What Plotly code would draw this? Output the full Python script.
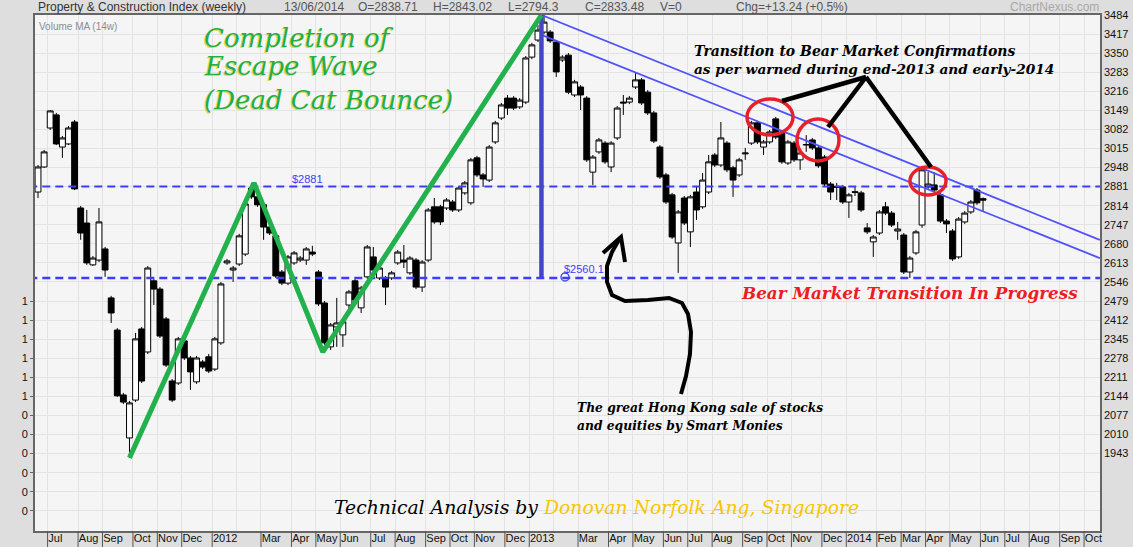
import pandas as pd
import plotly.graph_objects as go

# weekly candles (week ending Friday), Property & Construction Index
week_end = pd.date_range("2011-06-24", periods=156, freq="7D")

opens = [2862, 2950, 3087, 3133, 3020, 3031, 3108, 2806, 2753, 2606,
         2623, 2662, 2490, 2377, 2149, 1998, 2131, 2381, 2300, 2550,
         2521, 2416, 2198, 2191, 2339, 2279, 2195, 2265, 2283, 2240,
         2332, 2613, 2588, 2609, 2644, 2876, 2845, 2817, 2739, 2708,
         2581, 2542, 2613, 2623, 2623, 2651, 2581, 2472, 2318, 2388,
         2360, 2465, 2550, 2455, 2564, 2634, 2560, 2560, 2560, 2613,
         2623, 2578, 2623, 2528, 2623, 2810, 2810, 2806, 2827, 2799,
         2859, 2824, 2982, 2922, 2904, 3038, 3122, 3192, 3192, 3161,
         3178, 3336, 3396, 3424, 3424, 3389, 3326, 3343, 3203, 3231,
         3192, 2932, 3003, 3034, 2950, 3052, 3178, 3178, 3231, 3256,
         3213, 3140, 3020, 2922, 2852, 2683, 2841, 2722, 2862, 2810,
         2862, 2992, 2957, 3034, 2947, 2922, 2996, 3034, 3105, 3020,
         3038, 3119, 3069, 2964, 3034, 2975, 3027, 3045, 3017, 2985,
         2890, 2882, 2880, 2827, 2863, 2859, 2736, 2687, 2718, 2810,
         2788, 2725, 2711, 2581, 2648, 2746, 2880, 2887, 2852, 2760,
         2725, 2634, 2757, 2792, 2869, 2838.71]
highs = [2957, 3010, 3150, 3140, 3059, 3094, 3115, 2813, 2799, 2637,
         2806, 2669, 2497, 2384, 2156, 2128, 2367, 2388, 2602, 2557,
         2528, 2423, 2205, 2353, 2346, 2286, 2286, 2272, 2293, 2353,
         2546, 2627, 2602, 2715, 2827, 2894, 2852, 2824, 2746, 2715,
         2588, 2641, 2655, 2637, 2669, 2673, 2588, 2479, 2402, 2490,
         2413, 2518, 2557, 2532, 2676, 2669, 2602, 2567, 2585, 2658,
         2676, 2637, 2630, 2623, 2806, 2841, 2817, 2841, 2834, 2883,
         2901, 2982, 2989, 2929, 3027, 3112, 3175, 3203, 3199, 3192,
         3340, 3386, 3449, 3484, 3431, 3396, 3343, 3350, 3256, 3238,
         3199, 2992, 3052, 3041, 3041, 3164, 3203, 3199, 3280, 3263,
         3220, 3147, 3027, 2929, 2859, 2799, 2848, 2852, 2880, 2929,
         2992, 2999, 3108, 3041, 2954, 2982, 3017, 3112, 3112, 3045,
         3080, 3126, 3076, 3045, 3041, 3006, 3062, 3052, 3024, 2992,
         2897, 2894, 2887, 2859, 2880, 2866, 2753, 2711, 2799, 2827,
         2795, 2757, 2718, 2637, 2729, 2947, 2932, 2932, 2859, 2767,
         2732, 2774, 2795, 2834, 2876, 2843.02]
lows = [2841, 2947, 3080, 3027, 2982, 3027, 2869, 2694, 2606, 2602,
        2616, 2564, 2402, 2142, 2117, 1928, 2124, 2191, 2293, 2465,
        2349, 2247, 2124, 2184, 2272, 2167, 2188, 2240, 2226, 2233,
        2325, 2606, 2546, 2602, 2637, 2838, 2810, 2694, 2711, 2560,
        2535, 2535, 2606, 2616, 2606, 2637, 2462, 2325, 2307, 2318,
        2318, 2437, 2476, 2437, 2557, 2581, 2553, 2465, 2553, 2606,
        2595, 2571, 2521, 2511, 2616, 2750, 2746, 2799, 2792, 2792,
        2852, 2817, 2915, 2880, 2897, 3031, 3115, 3133, 3150, 3154,
        3171, 3329, 3389, 3417, 3386, 3266, 3319, 3206, 3196, 3150,
        2968, 2887, 2996, 2961, 2932, 3045, 3133, 3171, 3224, 3168,
        3133, 3034, 2908, 2820, 2697, 2578, 2746, 2669, 2764, 2803,
        2855, 2950, 2950, 2932, 2845, 2915, 2975, 3027, 3031, 2992,
        3031, 3048, 2961, 2957, 2968, 2940, 3003, 3010, 2947, 2883,
        2834, 2834, 2820, 2771, 2848, 2792, 2715, 2634, 2711, 2781,
        2739, 2694, 2574, 2560, 2641, 2736, 2873, 2862, 2753, 2718,
        2620, 2627, 2750, 2785, 2817, 2794.3]
closes = [2950, 3003, 3147, 3031, 3052, 3087, 2873, 2718, 2613, 2630,
          2757, 2588, 2437, 2146, 2124, 2121, 2346, 2198, 2595, 2521,
          2356, 2254, 2131, 2346, 2279, 2230, 2279, 2247, 2233, 2346,
          2539, 2620, 2595, 2708, 2820, 2845, 2817, 2739, 2718, 2567,
          2542, 2634, 2648, 2630, 2662, 2644, 2469, 2332, 2395, 2402,
          2406, 2511, 2483, 2525, 2669, 2588, 2595, 2528, 2578, 2651,
          2616, 2630, 2528, 2616, 2799, 2757, 2757, 2834, 2799, 2876,
          2894, 2975, 2922, 2908, 3020, 3105, 3168, 3157, 3157, 3185,
          3333, 3379, 3431, 3459, 3393, 3284, 3336, 3213, 3249, 3203,
          2975, 2985, 3045, 2968, 3034, 3157, 3175, 3192, 3256, 3175,
          3140, 3041, 2915, 2827, 2704, 2792, 2753, 2845, 2799, 2904,
          2968, 2957, 3052, 2940, 2904, 2975, 2999, 3105, 3038, 3038,
          3073, 3055, 2968, 3038, 2975, 2999, 3029, 3017, 2954, 2890,
          2862, 2878, 2827, 2852, 2861, 2799, 2722, 2704, 2792, 2788,
          2746, 2732, 2581, 2630, 2722, 2940, 2890, 2869, 2760, 2750,
          2627, 2767, 2788, 2827, 2824, 2833.48]

# x axis month labels
label_months = ["2011-07", "2011-08", "2011-09", "2011-10", "2011-11", "2011-12",
                "2012-01", "2012-03", "2012-04", "2012-05", "2012-06", "2012-07",
                "2012-08", "2012-09", "2012-10", "2012-11", "2012-12", "2013-01",
                "2013-03", "2013-04", "2013-05", "2013-06", "2013-07", "2013-08",
                "2013-09", "2013-10", "2013-11", "2013-12", "2014-01", "2014-02",
                "2014-03", "2014-04", "2014-05", "2014-06", "2014-07", "2014-08",
                "2014-09", "2014-10"]
month_labels = ["Jul", "Aug", "Sep", "Oct", "Nov", "Dec", "2012", "Mar", "Apr", "May",
                "Jun", "Jul", "Aug", "Sep", "Oct", "Nov", "Dec", "2013", "Mar", "Apr",
                "May", "Jun", "Jul", "Aug", "Sep", "Oct", "Nov", "Dec", "2014", "Feb",
                "Mar", "Apr", "May", "Jun", "Jul", "Aug", "Sep", "Oct"]
grid_only_months = ["2012-02", "2013-02"]

# price axis
price_ticks = [3484 - 67 * k for k in range(27)]
vol_ticks = [1742 + 67 * k for k in range(12)]
vol_labels = ["0"] * 6 + ["1"] * 6

# levels and drawn lines
resistance = 2881
support = 2560.1
wave_dates = ["2011-10-07", "2012-02-27", "2012-05-16", "2013-01-22"]
wave_levels = [1928, 2894, 2300, 3484]
peak_date = "2013-01-22"
chan_dates = ["2013-01-22", "2014-10-25"]
chan_upper = [3484, 2694]
chan_lower = [3414, 2630]

# plot area in page pixels, used to place the hand-drawn notes
PL, PR, PT, PB = 35, 1100, 15, 531


def px(x, y):
    return (x - PL) / (PR - PL), (PB - y) / (PB - PT)


fridays = pd.date_range("2011-06-24", "2014-10-31", freq="7D")


def month_sep(m):
    first = [d for d in fridays if d.strftime("%Y-%m") == m][0]
    return first + pd.Timedelta(days=4)


sep_dates = [month_sep(m) for m in label_months]
feb_dates = [month_sep(m) for m in grid_only_months]

fig = go.Figure()
fig.add_trace(go.Candlestick(
    x=week_end, open=opens, high=highs, low=lows, close=closes,
    increasing=dict(line=dict(color="black", width=1), fillcolor="white"),
    decreasing=dict(line=dict(color="black", width=1), fillcolor="black"),
    hoverinfo="skip", showlegend=False))

# dummy trace so the volume axis on the left is drawn
fig.add_trace(go.Scatter(x=[week_end[0]], y=[2000], yaxis="y2", mode="markers",
                         marker=dict(opacity=0), hoverinfo="skip", showlegend=False))

blue = "#3d3dff"
line_span = [fridays[0] - pd.Timedelta(days=10), fridays[-1] + pd.Timedelta(days=10)]
fig.add_trace(go.Scatter(x=line_span, y=[resistance, resistance], mode="lines",
                         line=dict(color=blue, width=2, dash="8px,5px"), hoverinfo="skip"))
fig.add_trace(go.Scatter(x=line_span, y=[support, support], mode="lines",
                         line=dict(color=blue, width=2.6, dash="8px,5px"), hoverinfo="skip"))
fig.add_trace(go.Scatter(x=chan_dates, y=chan_upper, mode="lines",
                         line=dict(color="#5050ff", width=1.8), hoverinfo="skip"))
fig.add_trace(go.Scatter(x=chan_dates, y=chan_lower, mode="lines",
                         line=dict(color="#5050ff", width=1.8), hoverinfo="skip"))
fig.add_trace(go.Scatter(x=[peak_date, peak_date], y=[wave_levels[-1], support], mode="lines",
                         line=dict(color="#4545c8", width=4.5), hoverinfo="skip"))
fig.add_trace(go.Scatter(x=wave_dates, y=wave_levels, mode="lines",
                         line=dict(color="#22b14c", width=5), hoverinfo="skip"))

shapes = []
# month separators in the label row
for d in sep_dates:
    shapes.append(dict(type="line", xref="x", yref="paper", x0=d, x1=d,
                       y0=0, y1=-16 / (PB - PT), line=dict(color="#555", width=1)))

# red circles
for cx, cy, rx, ry in [(770, 117, 23, 18), (818, 140, 21, 21), (928, 181, 18, 14)]:
    x0, y0 = px(cx - rx, cy + ry)
    x1, y1 = px(cx + rx, cy - ry)
    shapes.append(dict(type="circle", xref="paper", yref="paper", x0=x0, y0=y0, x1=x1, y1=y1,
                       line=dict(color="#e8202a", width=3.5)))

# black pointer lines
for (ax, ay), (bx, by) in [((782, 101), (866, 77)), ((828, 127), (866, 77)), ((866, 77), (931, 167))]:
    x0, y0 = px(ax, ay)
    x1, y1 = px(bx, by)
    shapes.append(dict(type="line", xref="paper", yref="paper", x0=x0, y0=y0, x1=x1, y1=y1,
                       line=dict(color="black", width=4.5)))

# hand-drawn curved arrow
curve = [(681, 394), (686, 376), (690, 354), (691, 332), (688, 314), (682, 303), (669, 298),
         (648, 300), (625, 301), (612, 295), (607, 282), (607, 266), (612, 252), (620, 238)]
path = "M " + " L ".join("%.5f,%.5f" % px(x, y) for x, y in curve)
shapes.append(dict(type="path", xref="paper", yref="paper", path=path,
                   line=dict(color="black", width=4)))
head = [(603, 253), (621, 237), (625, 262)]
path = "M " + " L ".join("%.5f,%.5f" % px(x, y) for x, y in head)
shapes.append(dict(type="path", xref="paper", yref="paper", path=path,
                   line=dict(color="black", width=4)))

# small circle on the support label
x0, y0 = px(561, 281)
x1, y1 = px(569, 273)
shapes.append(dict(type="circle", xref="paper", yref="paper", x0=x0, y0=y0, x1=x1, y1=y1,
                   line=dict(color=blue, width=1.3)))

annotations = []


def note(text, x, y, size, color, family="Liberation Sans", xanchor="left", **kw):
    xp, yp = px(x, y)
    annotations.append(dict(text=text, x=xp, y=yp, xref="paper", yref="paper",
                            xanchor=xanchor, yanchor="middle", showarrow=False,
                            font=dict(size=size, color=color, family=family), **kw))


# header
note("Property & Construction Index (weekly)", 36, 7, 12, "#333")
note("13/06/2014", 282, 7, 12, "#555")
note("O=2838.71", 356, 7, 12, "#555")
note("H=2843.02", 431, 7, 12, "#555")
note("L=2794.3", 506, 7, 12, "#555")
note("C=2833.48", 583, 7, 12, "#555")
note("V=0", 658, 7, 12, "#555")
note("Chg=+13.24 (+0.5%)", 734, 7, 12, "#555")
note("ChartNexus.com", 1101, 7, 12, "#a8a8a8", xanchor="right")
note("Volume MA (14w)", 37, 26, 10, "#8c8c8c")

note("$2881", 290, 179, 11, blue)
note("$2560.1", 562, 269, 11, blue)

serif = "DejaVu Serif"
for line, y in [("Completion of", 38), ("Escape Wave", 66), ("(Dead Cat Bounce)", 100)]:
    note("<i>%s</i>" % line, 202, y, 26, "#e3d54a", family=serif, xshift=-1, yshift=-1)
    note("<i>%s</i>" % line, 202, y, 26, "#20ae4a", family=serif)

note("<b><i>Transition to Bear Market Confirmations</i></b>", 692, 51, 14, "black", family=serif)
note("<b><i>as per warned during end-2013 and early-2014</i></b>", 692, 69, 13.7, "black", family=serif)
note("<b><i>Bear Market Transition In Progress</i></b>", 739, 293, 16.8, "#ee1c24", family=serif)
note("<b><i>The great Hong Kong sale of stocks</i></b>", 575, 407, 12.3, "black", family=serif)
note("<b><i>and equities by Smart Monies</i></b>", 575, 425, 12.3, "black", family=serif)
note("<i>Technical Analysis by <span style='color:#f7c600'>Donovan Norfolk Ang, Singapore</span></i>",
     332, 507, 18.8, "black", family=serif)

grid = "#e3e3e3"
fig.update_layout(
    width=1133, height=547,
    margin=dict(l=PL, r=1133 - PR, t=PT, b=547 - PB, autoexpand=False),
    template="none", paper_bgcolor="#dedede", plot_bgcolor="#f5f5f5",
    showlegend=False, hovermode=False, boxmode="group", boxgap=0.04, boxgroupgap=0,
    shapes=shapes, annotations=annotations,
    xaxis=dict(type="date",
               range=["2011-06-20 13:00", "2014-10-25 07:00"],
               tickvals=sep_dates, ticktext=month_labels, ticks="", tickangle=0,
               ticklabelposition="outside right", ticklabelstandoff=-4,
               tickfont=dict(family="Liberation Sans", size=11, color="#111"),
               showgrid=True, gridcolor=grid, gridwidth=1,
               minor=dict(tickvals=feb_dates, showgrid=True, gridcolor=grid, ticks=""),
               showline=True, linecolor="#666", linewidth=1.5, mirror=True,
               zeroline=False, automargin=False, rangeslider=dict(visible=False)),
    yaxis=dict(range=[1671, 3484], side="right",
               tickvals=price_ticks,
               ticktext=[str(v) if v >= 1943 else "" for v in price_ticks],
               ticks="", tickfont=dict(family="Liberation Sans", size=11, color="#111"),
               showgrid=True, gridcolor=grid, gridwidth=1,
               showline=True, linecolor="#666", linewidth=1.5, mirror=True,
               zeroline=False, automargin=False),
    yaxis2=dict(range=[1671, 3484], overlaying="y", side="left",
                tickvals=vol_ticks, ticktext=vol_labels,
                ticks="outside", ticklen=4, tickcolor="#666",
                tickfont=dict(family="Liberation Sans", size=11, color="#111"),
                showgrid=False, showline=False, zeroline=False, automargin=False),
)

# the page body has a default 8px margin; drop it so the chart fills the window
fig.write_html("out.html", config={"displayModeBar": False},
               post_script="document.body.style.margin='0';document.body.style.overflow='hidden';")
